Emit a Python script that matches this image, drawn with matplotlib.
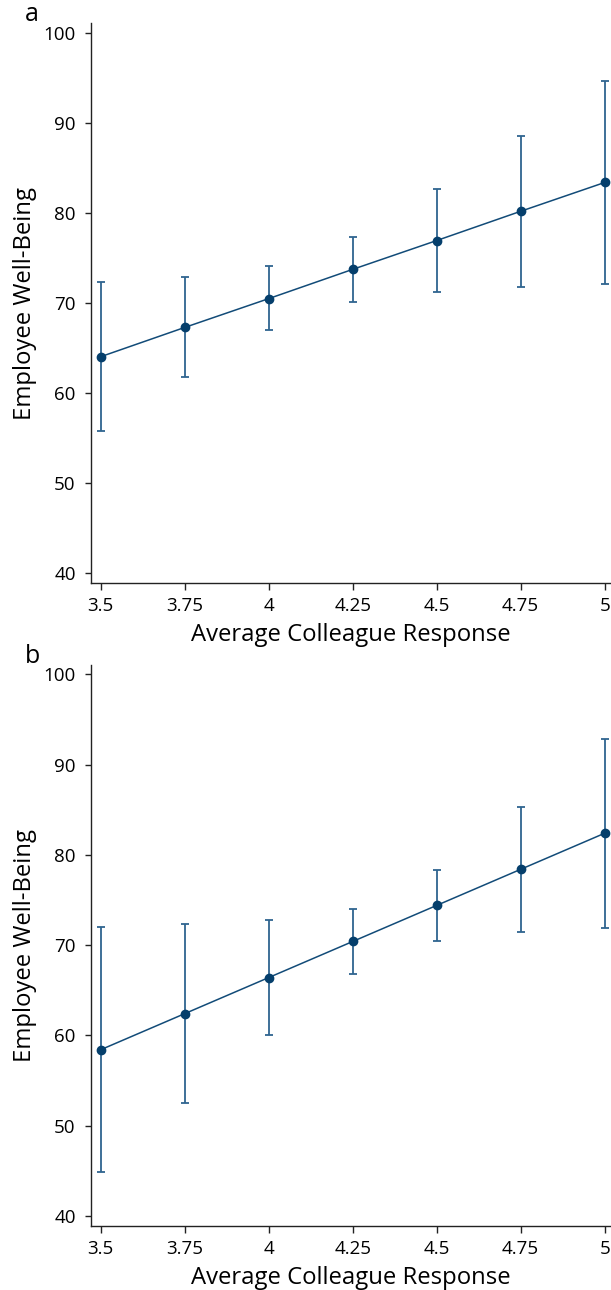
import numpy as np
import matplotlib
matplotlib.use('Agg')
import matplotlib.pyplot as plt

# 平均同僚回答 (x)
x_vals = [3.5, 3.75, 4.0, 4.25, 4.5, 4.75, 5.0]
x_labels = ['3.5', '3.75', '4', '4.25', '4.5', '4.75', '5']

# パネル a
a_mean = [64.0, 67.25, 70.45, 73.7, 76.9, 80.15, 83.35]
a_low = [55.75, 61.7, 66.95, 70.1, 71.2, 71.75, 72.05]
a_high = [72.3, 72.85, 74.05, 77.3, 82.6, 88.5, 94.65]

# パネル b
b_mean = [58.4, 62.4, 66.4, 70.4, 74.4, 78.4, 82.4]
b_low = [44.85, 52.55, 60.05, 66.85, 70.45, 71.5, 71.95]
b_high = [72.0, 72.3, 72.8, 74.0, 78.35, 85.3, 92.85]

y_ticks = [40, 50, 60, 70, 80, 90, 100]

plt.rcParams['font.family'] = ['Open Sans', 'DejaVu Sans']

fig = plt.figure(figsize=(6.11, 12.9), dpi=100)

line_col = '#124b78'
err_col = '#2f6590'
dot_col = '#053f6c'

panels = [
    ('a', [0.1489, 0.548, 0.8511, 0.4341], a_mean, a_low, a_high),
    ('b', [0.1489, 0.0496, 0.8511, 0.4349], b_mean, b_low, b_high),
]

for letter, rect, mean, low, high in panels:
    ax = fig.add_axes(rect)
    mean = np.array(mean)
    yerr = [mean - np.array(low), np.array(high) - mean]
    ax.errorbar(x_vals, mean, yerr=yerr, fmt='none', ecolor=err_col,
                elinewidth=1.3, capsize=3.2, capthick=1.3, zorder=2)
    ax.plot(x_vals, mean, color=line_col, lw=1.1, zorder=3)
    ax.plot(x_vals, mean, 'o', color=dot_col, ms=6, zorder=4)

    ax.set_xlim(3.4711, 5.0188)
    ax.set_ylim(38.86, 101.05)
    ax.set_xticks(x_vals)
    ax.set_xticklabels(x_labels)
    ax.set_yticks(y_ticks)

    for s in ['top', 'right']:
        ax.spines[s].set_visible(False)
    for s in ['left', 'bottom']:
        ax.spines[s].set_linewidth(1.0)
        ax.spines[s].set_color('#222222')
    ax.tick_params(axis='y', length=4, width=1.0, pad=7, labelsize=13.5, colors='#222222', labelcolor='black')
    ax.tick_params(axis='x', length=5, width=1.0, pad=5, labelsize=13.5, colors='#222222', labelcolor='black')

    ax.set_xlabel('Average Colleague Response', fontsize=17.2, labelpad=6)
    ax.set_ylabel('Employee Well-Being', fontsize=17.2, labelpad=5)

    ax.text(-0.128, 1.015, letter, transform=ax.transAxes, fontsize=18,
            ha='left', va='center')

fig.savefig('out.png', dpi=100, facecolor='white')
